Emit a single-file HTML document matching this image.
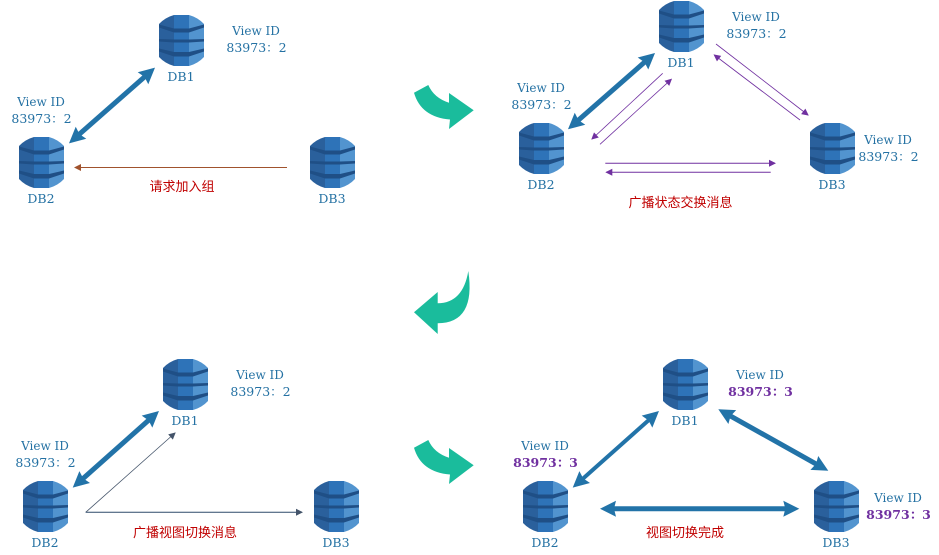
<!DOCTYPE html>
<html><head><meta charset="utf-8">
<style>
html,body{margin:0;padding:0;background:#fff}
svg{display:block}
text{font-family:"DejaVu Serif","Noto Serif CJK SC",serif;font-size:12.5px;fill:#2471a3;text-anchor:middle}
.v{font-size:12px}
.c{font-family:"Liberation Serif","Noto Sans CJK SC",sans-serif;font-size:13px;fill:#c00000}
.b{fill:#7030a0;font-weight:bold}
</style></head><body>
<svg width="939" height="555" viewBox="0 0 939 555" xmlns="http://www.w3.org/2000/svg">
<defs>
<symbol id="db" width="45" height="51" viewBox="0 0 45 51" overflow="visible">
<path d="M15 0 V51 Q6 48.5 0 42 V9 Q6 2.5 15 0Z" fill="#2a609c"/>
<path d="M15 0H30V51H15Z" fill="#2e73b8"/>
<path d="M30 0 Q39 2.5 45 9 V42 Q39 48.5 30 51Z" fill="#5294cf"/>
<path d="M0 9.5 L15 13.5 H30 L45 9.5 V12.5 L30 17.5 H15 L0 12.5Z" fill="#1f4f86"/>
<path d="M0 24 L15 24.5 H30 L45 24 V26.5 L30 27.5 H15 L0 26.5Z" fill="#1f4f86"/>
<path d="M0 33.5 L15 37 H30 L45 33.5 V36.5 L30 41.5 H15 L0 36.5Z" fill="#1f4f86"/>
</symbol>
<marker id="t" markerUnits="userSpaceOnUse" markerWidth="18" markerHeight="18" refX="4" refY="8" orient="auto-start-reverse" overflow="visible"><path d="M0 0L16 8L0 16L2 8Z" fill="#2273a8"/></marker>
<marker id="p" markerUnits="userSpaceOnUse" markerWidth="8" markerHeight="8" refX="6" refY="4" orient="auto-start-reverse" overflow="visible"><path d="M0 0.5L7 4L0 7.5Z" fill="#7030a0"/></marker>
<marker id="r" markerUnits="userSpaceOnUse" markerWidth="8" markerHeight="8" refX="6" refY="4" orient="auto-start-reverse" overflow="visible"><path d="M0 0.5L7 4L0 7.5Z" fill="#a0522d"/></marker>
<marker id="g" markerUnits="userSpaceOnUse" markerWidth="8" markerHeight="8" refX="6" refY="4" orient="auto-start-reverse" overflow="visible"><path d="M0 0.5L7 4L0 7.5Z" fill="#44546a"/></marker>
</defs>

<!-- Panel 1 -->
<use href="#db" x="159" y="15"/><use href="#db" x="19" y="137"/><use href="#db" x="310" y="137"/>
<line x1="146" y1="75.6" x2="78" y2="135.4" stroke="#2273a8" stroke-width="5" marker-start="url(#t)" marker-end="url(#t)"/>
<line x1="287" y1="167.5" x2="75" y2="167.5" stroke="#a0522d" stroke-width="1" marker-end="url(#r)"/>
<text x="181" y="81">DB1</text><text x="41" y="203">DB2</text><text x="332" y="203">DB3</text>
<text class="v" x="256" y="35">View ID</text><text x="256.5" y="52">83973：2</text>
<text class="v" x="41" y="106">View ID</text><text x="41.5" y="123">83973：2</text>
<text class="c" x="182" y="191">请求加入组</text>

<!-- Panel 2 -->
<use href="#db" x="659" y="1"/><use href="#db" x="519" y="123"/><use href="#db" x="810" y="123"/>
<line x1="646" y1="60.9" x2="577" y2="121.4" stroke="#2273a8" stroke-width="5" marker-start="url(#t)" marker-end="url(#t)"/>
<g stroke="#7030a0" stroke-width="0.8">
<line x1="662.7" y1="73.3" x2="592" y2="139" marker-end="url(#p)"/>
<line x1="600" y1="144.3" x2="671.3" y2="79.3" marker-end="url(#p)"/>
<line x1="716" y1="44" x2="808" y2="115" marker-end="url(#p)"/>
<line x1="800" y1="120" x2="714.3" y2="55" marker-end="url(#p)"/>
<line x1="605.3" y1="163.3" x2="775" y2="163.3" stroke-width="1" marker-end="url(#p)"/>
<line x1="770.7" y1="172.3" x2="606.3" y2="172.3" stroke-width="1" marker-end="url(#p)"/>
</g>
<text x="681" y="67">DB1</text><text x="541" y="189">DB2</text><text x="832" y="189">DB3</text>
<text class="v" x="756" y="21">View ID</text><text x="756.5" y="38">83973：2</text>
<text class="v" x="541" y="92">View ID</text><text x="541.5" y="109">83973：2</text>
<text class="v" x="888" y="144">View ID</text><text x="888.5" y="161">83973：2</text>
<text class="c" x="680.5" y="207">广播状态交换消息</text>

<!-- Panel 3 -->
<use href="#db" x="163" y="359"/><use href="#db" x="23" y="481"/><use href="#db" x="314" y="481"/>
<line x1="150" y1="419" x2="81.7" y2="479.7" stroke="#2273a8" stroke-width="5" marker-start="url(#t)" marker-end="url(#t)"/>
<line x1="85.7" y1="512.3" x2="175" y2="433" stroke="#44546a" stroke-width="0.8" marker-end="url(#g)"/>
<line x1="85.7" y1="512.3" x2="302" y2="512.3" stroke="#2f4a6a" stroke-width="1" marker-end="url(#g)"/>
<text x="185" y="425">DB1</text><text x="45" y="547">DB2</text><text x="336" y="547">DB3</text>
<text class="v" x="260" y="379">View ID</text><text x="260.5" y="396">83973：2</text>
<text class="v" x="45" y="450">View ID</text><text x="45.5" y="467">83973：2</text>
<text class="c" x="185" y="537">广播视图切换消息</text>

<!-- Panel 4 -->
<use href="#db" x="663" y="359"/><use href="#db" x="523" y="481"/><use href="#db" x="814" y="481"/>
<line x1="650" y1="419" x2="581.7" y2="479.7" stroke="#2273a8" stroke-width="4" marker-start="url(#t)" marker-end="url(#t)"/>
<line x1="728.8" y1="415.1" x2="817.8" y2="464.9" stroke="#2273a8" stroke-width="5" marker-start="url(#t)" marker-end="url(#t)"/>
<line x1="612" y1="508.7" x2="787.3" y2="508.7" stroke="#2273a8" stroke-width="5" marker-start="url(#t)" marker-end="url(#t)"/>
<text x="685" y="425">DB1</text><text x="545" y="547">DB2</text><text x="836" y="547">DB3</text>
<text class="v" x="760" y="379">View ID</text><text class="b" x="760.5" y="396">83973：3</text>
<text class="v" x="545" y="450">View ID</text><text class="b" x="545.5" y="467">83973：3</text>
<text class="v" x="898" y="502">View ID</text><text class="b" x="898.5" y="519">83973：3</text>
<text class="c" x="685" y="537">视图切换完成</text>

<!-- Curved arrows -->
<path d="M414 92.7L428.3 85Q434 98 449 102.7L449 93L473.7 110.3L449 129L450 119.5Q421 117 414 92.7Z" fill="#1abc9c"/>
<path d="M414 447.7L428.3 440Q434 453 449 457.7L449 448L473.7 465.3L449 484L450 474.5Q421 472 414 447.7Z" fill="#1abc9c"/>
<path d="M414 312.3L437.7 292L437.7 303.3Q463 303 468.3 271Q476 323 437.7 323.3L437.7 334Z" fill="#1abc9c"/>
</svg>
</body></html>
